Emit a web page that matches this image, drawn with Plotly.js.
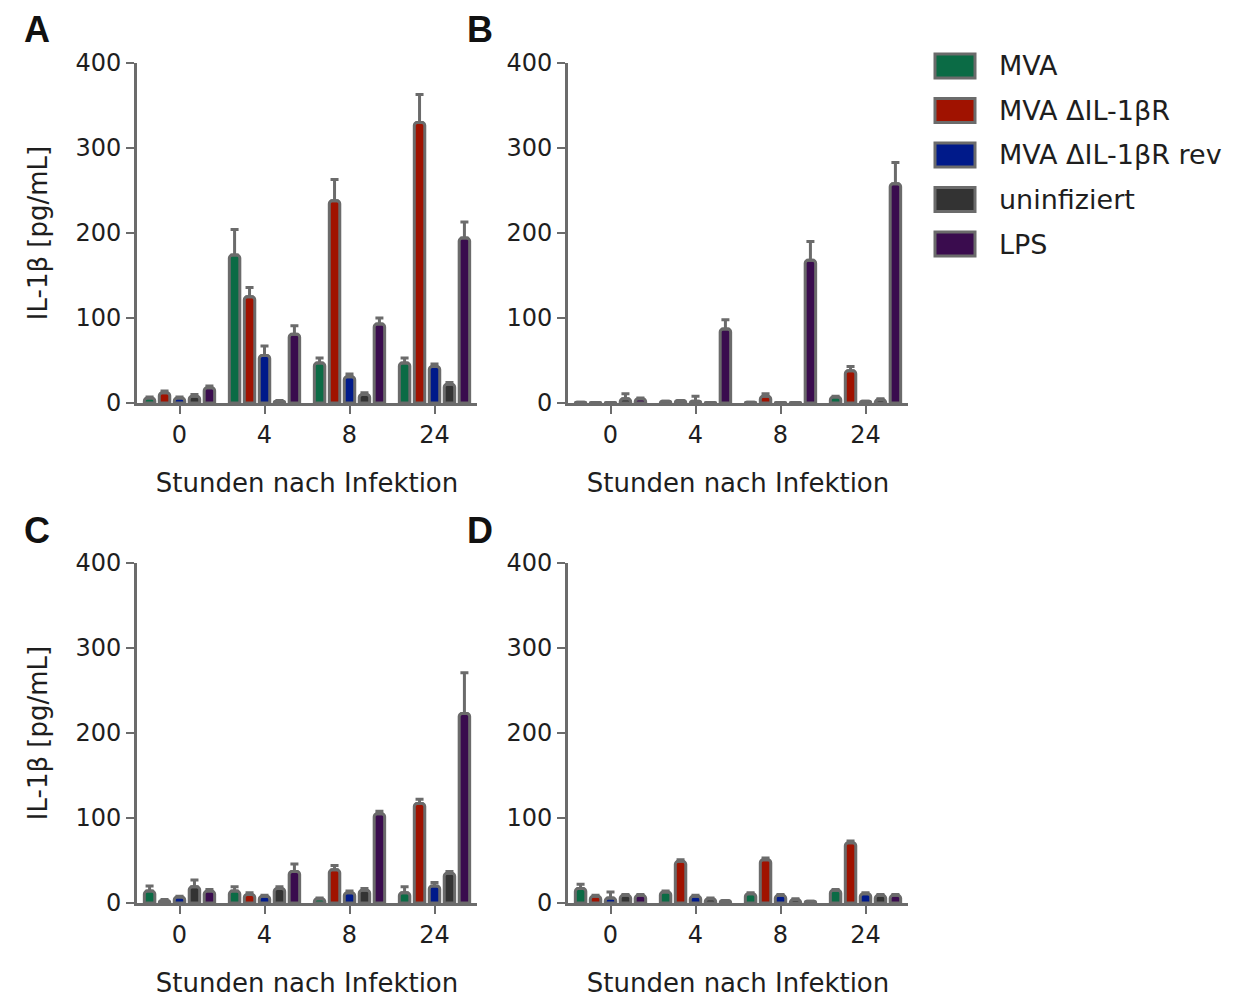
<!DOCTYPE html>
<html>
<head>
<meta charset="utf-8">
<script src="https://cdn.plot.ly/plotly-3.0.1.min.js"></script>
<style>html,body{margin:0;padding:0;background:#fff;}#chart{width:1236px;height:999px;}</style>
</head>
<body>
<div id="chart"></div>
<script>
// ---------- DATA ----------
const categories = ['0', '4', '8', '24'];
const seriesNames = ['MVA', 'MVA ΔIL-1βR', 'MVA ΔIL-1βR rev', 'uninfiziert', 'LPS'];
const seriesColors = ['#0b6b45', '#a01200', '#001a8a', '#333333', '#3a0c4e'];
const panelLetters = ['A', 'B', 'C', 'D'];
const xTitle = 'Stunden nach Infektion';
const yTitle = 'IL-1β [pg/mL]';
const yTicks = [0, 100, 200, 300, 400];

// rows: MVA, ΔIL-1βR, ΔIL-1βR rev, uninfiziert, LPS ; columns: 0, 4, 8, 24 h
const valuesA = [
  [6, 174, 47, 47],
  [12, 125, 238, 330],
  [6, 56, 31, 43],
  [8, 2, 10, 22],
  [18, 81, 93, 194]
];
const errorsA = [
  [1, 30, 6, 6],
  [2, 11, 25, 33],
  [1, 11, 3, 3],
  [2, 1, 2, 2],
  [2, 10, 7, 19]
];
const valuesB = [
  [1, 2, 1, 7],
  [0.5, 3, 8, 38],
  [0.5, 2, 0.5, 2],
  [5, 0.5, 0.5, 4],
  [5, 87, 168, 258]
];
const errorsB = [
  [0, 0, 0, 1],
  [0, 0, 3, 5],
  [0, 6, 0, 0],
  [6, 0, 0, 1],
  [1, 11, 22, 25]
];
const valuesC = [
  [14, 14, 5, 12],
  [3, 10, 39, 117],
  [7, 8, 12, 20],
  [19, 17, 15, 35],
  [14, 37, 105, 223]
];
const errorsC = [
  [6, 5, 1, 7],
  [1, 2, 5, 5],
  [1, 1, 2, 4],
  [8, 2, 2, 2],
  [2, 9, 3, 48]
];
const valuesD = [
  [17, 13, 11, 15],
  [8, 49, 51, 71],
  [6, 8, 9, 11],
  [9, 5, 4, 9],
  [9, 3, 2, 9]
];
const errorsD = [
  [5, 1, 1, 1],
  [1, 2, 2, 2],
  [7, 1, 1, 1],
  [1, 1, 1, 1],
  [1, 0, 0, 1]
];

// ---------- LAYOUT HELPERS ----------
const W = 1236, H = 999;
const px = x => x / W;
const py = y => 1 - y / H;
const FONT = 'DejaVu Sans, sans-serif';
const AXIS = '#6b6b6b';
const TXT = '#1e1e1e';

const panels = [
  {vals: valuesA, errs: errorsA, left: 137, top: 63, letterX: 37, xs: 'x', ys: 'y', xa: 'xaxis', ya: 'yaxis', ytitle: true},
  {vals: valuesB, errs: errorsB, left: 568, top: 63, letterX: 480, xs: 'x2', ys: 'y2', xa: 'xaxis2', ya: 'yaxis2', ytitle: false},
  {vals: valuesC, errs: errorsC, left: 137, top: 563, letterX: 37, xs: 'x3', ys: 'y3', xa: 'xaxis3', ya: 'yaxis3', ytitle: true},
  {vals: valuesD, errs: errorsD, left: 568, top: 563, letterX: 480, xs: 'x4', ys: 'y4', xa: 'xaxis4', ya: 'yaxis4', ytitle: false}
];
const PW = 340, PH = 340;

const traces = [];
const layout = {
  width: W, height: H,
  margin: {l: 0, r: 0, t: 0, b: 0},
  paper_bgcolor: '#ffffff', plot_bgcolor: 'rgba(0,0,0,0)',
  showlegend: false,
  barmode: 'group', bargap: 0.12, bargroupgap: 0.3,
  font: {family: FONT, size: 24, color: TXT},
  annotations: [], shapes: []
};

panels.forEach((p, pi) => {
  p.vals.forEach((row, si) => {
    traces.push({
      type: 'bar', x: categories, y: row, name: seriesNames[si],
      xaxis: p.xs, yaxis: p.ys,
      marker: {color: seriesColors[si], line: {color: AXIS, width: 3}, cornerradius: 3},
      error_y: {type: 'data', symmetric: false, array: p.errs[si], arrayminus: row.map(() => 0),
                color: AXIS, thickness: 3, width: 4},
      hoverinfo: 'x+y+name'
    });
  });
  layout[p.xa] = {
    domain: [px(p.left), px(p.left + PW)], anchor: p.ys,
    type: 'category', categoryorder: 'array', categoryarray: categories,
    range: [-0.5, 3.5], showgrid: false, zeroline: false,
    showline: true, linecolor: AXIS, linewidth: 3,
    ticks: 'outside', ticklen: 8, tickwidth: 2, tickcolor: AXIS,
    tickfont: {family: FONT, size: 24, color: TXT},
    title: {text: xTitle, font: {family: FONT, size: 26, color: TXT}, standoff: 27},
    automargin: false, fixedrange: true
  };
  layout[p.ya] = {
    domain: [py(p.top + PH), py(p.top)], anchor: p.xs,
    range: [0, 400], tickvals: yTicks, ticktext: yTicks.map(String),
    showgrid: false, zeroline: false,
    showline: true, linecolor: AXIS, linewidth: 3,
    ticks: 'outside', ticklen: 8, tickwidth: 2, tickcolor: AXIS,
    tickfont: {family: FONT, size: 24, color: TXT},
    title: p.ytitle ? {text: yTitle, font: {family: FONT, size: 26, color: TXT}, standoff: 21} : {text: ''},
    automargin: false, fixedrange: true
  };
  layout.annotations.push({
    text: '<b>' + panelLetters[pi] + '</b>', xref: 'paper', yref: 'paper',
    x: px(p.letterX), y: py(p.top - 33), xanchor: 'center', yanchor: 'middle',
    showarrow: false, font: {family: 'Liberation Sans, Arial, sans-serif', size: 36, color: '#111'}
  });
});

// manual legend with large swatches
seriesNames.forEach((name, i) => {
  const cy = 66 + 44.5 * i;
  layout.shapes.push({
    type: 'rect', xref: 'paper', yref: 'paper',
    x0: px(935), x1: px(975), y0: py(cy + 12), y1: py(cy - 12),
    fillcolor: seriesColors[i], line: {color: AXIS, width: 3}
  });
  layout.annotations.push({
    text: name, xref: 'paper', yref: 'paper', x: px(997), y: py(cy),
    xanchor: 'left', yanchor: 'middle', showarrow: false,
    font: {family: FONT, size: 27, color: TXT}
  });
});

Plotly.newPlot('chart', traces, layout, {displayModeBar: false, staticPlot: true});
</script>
</body>
</html>
